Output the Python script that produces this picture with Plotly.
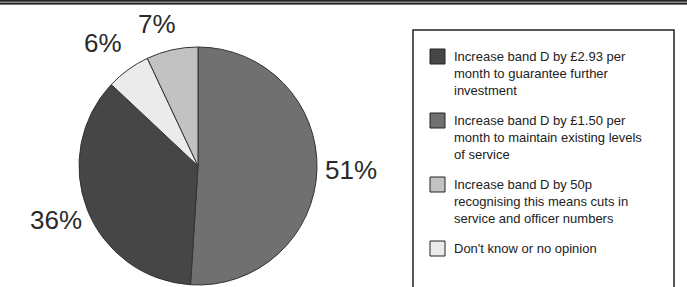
import plotly.graph_objects as go

# ---- data ----
slice_labels = [
    "Increase band D by £1.50 per month to maintain existing levels of service",
    "Increase band D by £2.93 per month to guarantee further investment",
    "Don't know or no opinion",
    "Increase band D by 50p recognising this means cuts in service and officer numbers",
]
slice_values = [51, 36, 6, 7]
slice_colors = ["#707070", "#464646", "#ebebeb", "#c2c2c2"]

legend_texts = [
    "Increase band D by £2.93 per<br>month to guarantee further<br>investment",
    "Increase band D by £1.50 per<br>month to maintain existing levels<br>of service",
    "Increase band D by 50p<br>recognising this means cuts in<br>service and officer numbers",
    "Don't know or no opinion",
]
legend_colors = ["#464646", "#707070", "#c2c2c2", "#ebebeb"]

W, H = 687, 287

def px(x):
    return x / W

def py(y):
    return 1 - y / H

fig = go.Figure()
fig.add_trace(go.Pie(
    labels=slice_labels,
    values=slice_values,
    sort=False,
    direction="clockwise",
    rotation=0,
    marker=dict(colors=slice_colors, line=dict(color="#333333", width=1)),
    textinfo="none",
    hoverinfo="label+percent",
    showlegend=False,
    domain=dict(x=[px(79), px(317)], y=[py(285), py(47)]),
))

# percentage labels (pixel centres)
label_pos = [(351, 170), (56, 220), (103, 43), (157, 24)]
annotations = []
for v, (lx, ly) in zip(slice_values, label_pos):
    annotations.append(dict(
        x=px(lx), y=py(ly), xref="paper", yref="paper",
        text=f"{v}%", showarrow=False, xanchor="center", yanchor="middle",
        font=dict(family="Liberation Sans, Arial, sans-serif", size=26, color="#2a2a2a"),
    ))

shapes = []
# top double rule
shapes.append(dict(type="rect", xref="paper", yref="paper", x0=0, x1=1,
                   y0=py(4.5), y1=py(0), fillcolor="#8a8a8a", line=dict(width=0), layer="above"))
shapes.append(dict(type="line", xref="paper", yref="paper", x0=0, x1=1,
                   y0=py(0.8), y1=py(0.8), line=dict(color="#222222", width=1.6), layer="above"))
shapes.append(dict(type="line", xref="paper", yref="paper", x0=0, x1=1,
                   y0=py(3.8), y1=py(3.8), line=dict(color="#222222", width=1.6), layer="above"))

# legend box
shapes.append(dict(type="rect", xref="paper", yref="paper", x0=px(413), x1=px(674),
                   y0=py(300), y1=py(30), fillcolor="rgba(0,0,0,0)",
                   line=dict(color="#222222", width=1.5)))

entry_tops = [49, 113, 177, 241]
for txt, col, top in zip(legend_texts, legend_colors, entry_tops):
    shapes.append(dict(type="rect", xref="paper", yref="paper", x0=px(430), x1=px(445),
                       y0=py(top + 15), y1=py(top), fillcolor=col,
                       line=dict(color="#222222", width=1)))
    annotations.append(dict(
        x=px(452), y=py(top - 2), xref="paper", yref="paper",
        text=txt, showarrow=False, xanchor="left", yanchor="top", align="left",
        font=dict(family="Liberation Sans, Arial, sans-serif", size=13, color="#222222"),
    ))

fig.update_layout(
    width=W, height=H,
    margin=dict(l=0, r=0, t=0, b=0),
    paper_bgcolor="white", plot_bgcolor="white",
    shapes=shapes, annotations=annotations,
)

fig.write_html(
    "out.html",
    config={"displayModeBar": False},
    post_script="document.body.style.margin='0';document.body.style.overflow='hidden';",
)
